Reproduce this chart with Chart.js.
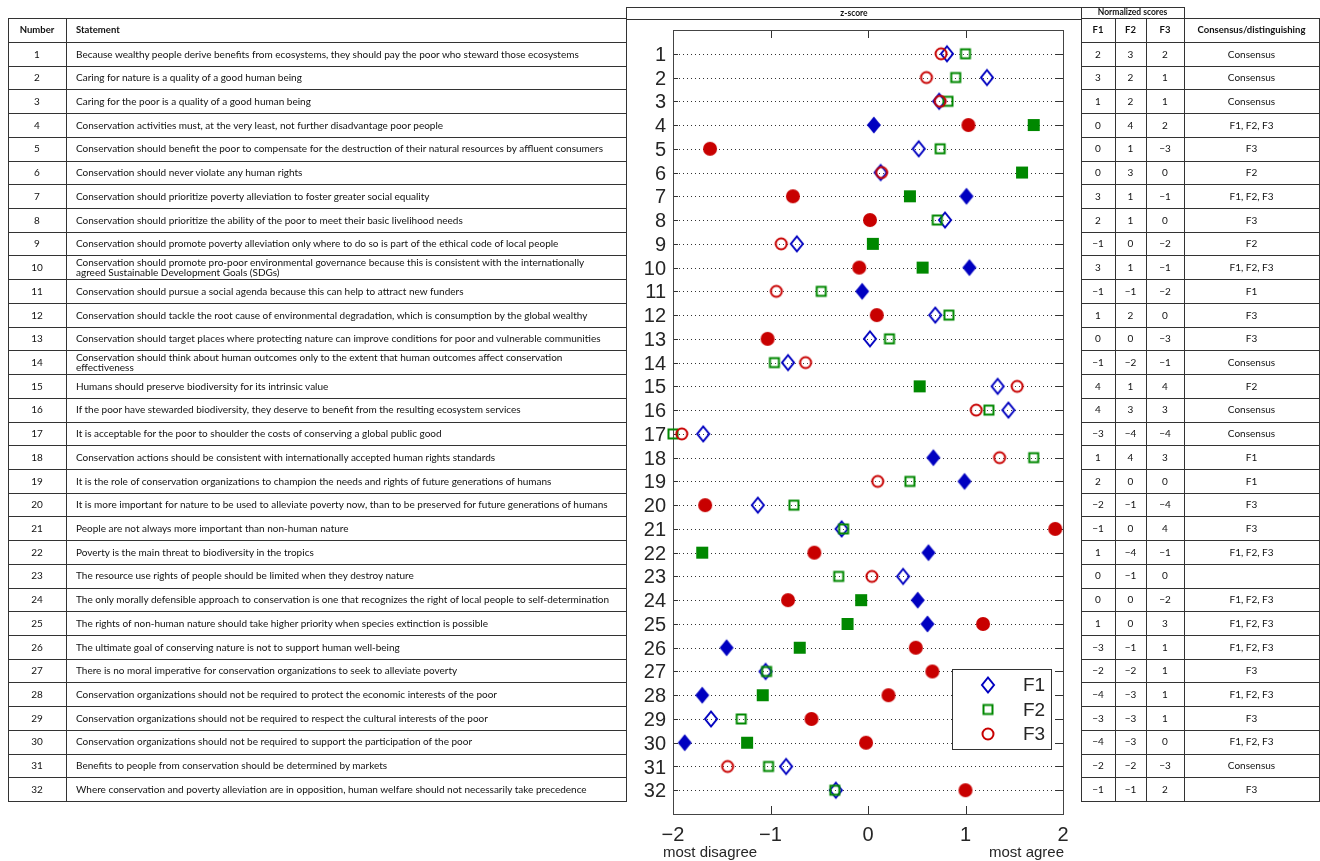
<!DOCTYPE html>
<html>
<head>
<meta charset="utf-8">
<script src="https://cdn.jsdelivr.net/npm/chart.js@4.4.1/dist/chart.umd.min.js"></script>
<style>
    body { margin: 0; background: #fff; width: 1320px; height: 861px; overflow: hidden; position: relative;
           font-family: Lato, "Open Sans", sans-serif; color: #111; }
    .ln { position: absolute; background: #333; }
    .cell { position: absolute; font-size: 10px; display: flex; align-items: center; line-height: 10.5px; white-space: nowrap; }
    .hd { font-weight: bold; font-size: 9.5px; }
    .sm { font-size: 8.5px; }
    #chart_wrap { position: absolute; left: 626px; top: 19px; width: 455px; height: 842px; }
</style>
</head>
<body>
<div id="chart_wrap"><canvas id="z_chart"></canvas></div>
<script>
// statement numbers and texts
const numbers = Array.from({ length: 32 }, (_, i) => i + 1);
const statements = [
    'Because wealthy people derive benefits from ecosystems, they should pay the poor who steward those ecosystems',
    'Caring for nature is a quality of a good human being',
    'Caring for the poor is a quality of a good human being',
    'Conservation activities must, at the very least, not further disadvantage poor people',
    'Conservation should benefit the poor to compensate for the destruction of their natural resources by affluent consumers',
    'Conservation should never violate any human rights',
    'Conservation should prioritize poverty alleviation to foster greater social equality',
    'Conservation should prioritize the ability of the poor to meet their basic livelihood needs',
    'Conservation should promote poverty alleviation only where to do so is part of the ethical code of local people',
    'Conservation should promote pro-poor environmental governance because this is consistent with the internationally\nagreed Sustainable Development Goals (SDGs)',
    'Conservation should pursue a social agenda because this can help to attract new funders',
    'Conservation should tackle the root cause of environmental degradation, which is consumption by the global wealthy',
    'Conservation should target places where protecting nature can improve conditions for poor and vulnerable communities',
    'Conservation should think about human outcomes only to the extent that human outcomes affect conservation\neffectiveness',
    'Humans should preserve biodiversity for its intrinsic value',
    'If the poor have stewarded biodiversity, they deserve to benefit from the resulting ecosystem services',
    'It is acceptable for the poor to shoulder the costs of conserving a global public good',
    'Conservation actions should be consistent with internationally accepted human rights standards',
    'It is the role of conservation organizations to champion the needs and rights of future generations of humans',
    'It is more important for nature to be used to alleviate poverty now, than to be preserved for future generations of humans',
    'People are not always more important than non-human nature',
    'Poverty is the main threat to biodiversity in the tropics',
    'The resource use rights of people should be limited when they destroy nature',
    'The only morally defensible approach to conservation is one that recognizes the right of local people to self-determination',
    'The rights of non-human nature should take higher priority when species extinction is possible',
    'The ultimate goal of conserving nature is not to support human well-being',
    'There is no moral imperative for conservation organizations to seek to alleviate poverty',
    'Conservation organizations should not be required to protect the economic interests of the poor',
    'Conservation organizations should not be required to respect the cultural interests of the poor',
    'Conservation organizations should not be required to support the participation of the poor',
    'Benefits to people from conservation should be determined by markets',
    'Where conservation and poverty alleviation are in opposition, human welfare should not necessarily take precedence'
];

// z-scores per factor
const f1_z = [0.81, 1.22, 0.73, 0.06, 0.52, 0.13, 1.01, 0.79, -0.73, 1.04,
              -0.06, 0.69, 0.02, -0.82, 1.33, 1.44, -1.69, 0.67, 0.99, -1.13,
              -0.27, 0.62, 0.36, 0.51, 0.61, -1.45, -1.05, -1.70, -1.61, -1.88,
              -0.84, -0.33];
const f2_z = [1.00, 0.90, 0.82, 1.70, 0.74, 1.58, 0.43, 0.71, 0.05, 0.56,
              -0.48, 0.83, 0.22, -0.96, 0.53, 1.24, -2.00, 1.70, 0.43, -0.76,
              -0.25, -1.70, -0.30, -0.07, -0.21, -0.70, -1.04, -1.08, -1.30, -1.24,
              -1.02, -0.34];
const f3_z = [0.75, 0.60, 0.74, 1.03, -1.62, 0.14, -0.77, 0.02, -0.89, -0.09,
              -0.94, 0.09, -1.03, -0.64, 1.53, 1.11, -1.91, 1.35, 0.10, -1.67,
              1.92, -0.55, 0.04, -0.82, 1.18, 0.49, 0.66, 0.21, -0.58, -0.02,
              -1.44, 1.00];

// normalized scores
const f1_norm = [2, 3, 1, 0, 0, 0, 3, 2, -1, 3, -1, 1, 0, -1, 4, 4, -3, 1, 2, -2, -1, 1, 0, 0, 1, -3, -2, -4, -3, -4, -2, -1];
const f2_norm = [3, 2, 2, 4, 1, 3, 1, 1, 0, 1, -1, 2, 0, -2, 1, 3, -4, 4, 0, -1, 0, -4, -1, 0, 0, -1, -2, -3, -3, -3, -2, -1];
const f3_norm = [2, 1, 1, 2, -3, 0, -1, 0, -2, -1, -2, 0, -3, -1, 4, 3, -4, 3, 0, -4, 4, -1, 0, -2, 3, 1, 1, 1, 1, 0, -3, 2];

const distinguishing = ['Consensus', 'Consensus', 'Consensus', 'F1, F2, F3', 'F3', 'F2', 'F1, F2, F3', 'F3', 'F2', 'F1, F2, F3',
                        'F1', 'F3', 'F3', 'Consensus', 'F2', 'Consensus', 'Consensus', 'F1', 'F1', 'F3',
                        'F3', 'F1, F2, F3', '', 'F1, F2, F3', 'F1, F2, F3', 'F1, F2, F3', 'F3', 'F1, F2, F3', 'F3', 'F1, F2, F3',
                        'Consensus', 'F3'];

const x_ticks = [-2, -1, 0, 1, 2];

const BLUE = '#0000c0', GREEN = '#008800', RED = '#c80000', INK = '#262626';

// ---------- tables (html) ----------
const ROW_TOP = 42, ROW_H = 23.72;

function line(x, y, w, h) {
    var d = document.createElement('div');
    d.className = 'ln';
    d.style.cssText = `left:${x}px;top:${y}px;width:${w}px;height:${h}px`;
    document.body.appendChild(d);
}

function cell(html, x, y, w, h, align, cls) {
    var d = document.createElement('div');
    d.className = 'cell' + (cls ? ' ' + cls : '');
    d.style.cssText = `left:${x}px;top:${y}px;width:${w}px;height:${h}px;justify-content:${align}`;
    d.innerHTML = html;
    document.body.appendChild(d);
}

function fmt(n) {
    return n < 0 ? '\u2212' + (-n) : String(n);
}

// header lines
line(8, 18, 619, 1);
line(626, 7, 559, 1);
line(626, 19, 456, 1);
line(1081, 18, 239, 1);
// row lines
for (let i = 0; i <= 32; i++) {
    let ly = Math.round(ROW_TOP + i * ROW_H);
    line(8, ly, 619, 1);
    line(1081, ly, 239, 1);
}
const table_bottom = Math.round(ROW_TOP + 32 * ROW_H) + 1;
// column lines
line(8, 18, 1.4, table_bottom - 18);
line(66, 18, 1.4, table_bottom - 18);
line(626, 7, 1.4, table_bottom - 7);
line(1081, 7, 1.4, table_bottom - 7);
line(1115, 18, 1.4, table_bottom - 18);
line(1146, 18, 1.4, table_bottom - 18);
line(1184, 7, 1.4, table_bottom - 7);
line(1319, 18, 1.4, table_bottom - 18);

cell('z-score', 626, 7, 456, 12, 'center', 'hd sm');
cell('Normalized scores', 1081, 7, 103, 11, 'center', 'hd sm');
cell('Number', 8, 18, 58, 24, 'center', 'hd');
cell('Statement', 76, 18, 300, 24, 'flex-start', 'hd');
cell('F1', 1081, 18, 34, 24, 'center', 'hd');
cell('F2', 1115, 18, 31, 24, 'center', 'hd');
cell('F3', 1146, 18, 38, 24, 'center', 'hd');
cell('Consensus/distinguishing', 1184, 18, 135, 24, 'center', 'hd');

for (let i = 0; i < 32; i++) {
    let row_y = ROW_TOP + i * ROW_H;
    cell(String(numbers[i]), 8, row_y, 58, ROW_H, 'center');
    cell(statements[i].replace('\n', '<br>'), 76, row_y, 548, ROW_H, 'flex-start');
    cell(fmt(f1_norm[i]), 1081, row_y, 34, ROW_H, 'center');
    cell(fmt(f2_norm[i]), 1115, row_y, 31, ROW_H, 'center');
    cell(fmt(f3_norm[i]), 1146, row_y, 38, ROW_H, 'center');
    cell(distinguishing[i], 1184, row_y, 135, ROW_H, 'center');
}

// ---------- markers ----------
function marker(shape, color, filled) {
    const c = document.createElement('canvas');
    c.width = 20; c.height = 20;
    const g = c.getContext('2d');
    g.strokeStyle = color;
    g.fillStyle = color;
    g.lineWidth = 2;
    g.beginPath();
    if (shape === 'diamond') {
        const w = filled ? 7 : 6, h = filled ? 8.5 : 7.5;
        g.moveTo(10, 10 - h); g.lineTo(10 + w, 10); g.lineTo(10, 10 + h); g.lineTo(10 - w, 10);
        g.closePath();
    } else if (shape === 'square') {
        const r = filled ? 6 : 4.5;
        g.rect(10 - r, 10 - r, 2 * r, 2 * r);
    } else {
        g.arc(10, 10, filled ? 7 : 5.5, 0, Math.PI * 2);
    }
    if (filled) g.fill(); else g.stroke();
    return c;
}

const factors = [
    { label: 'F1', z: f1_z, shape: 'diamond', color: BLUE, order: 3 },
    { label: 'F2', z: f2_z, shape: 'square', color: GREEN, order: 2 },
    { label: 'F3', z: f3_z, shape: 'circle', color: RED, order: 1 }
];
factors.forEach(f => {
    f.open = marker(f.shape, f.color, false);
    f.solid = marker(f.shape, f.color, true);
});

// filled marker where the statement distinguishes that factor
const datasets = factors.map(f => ({
    label: f.label,
    data: f.z.map((v, i) => ({ x: v, y: numbers[i] })),
    pointStyle: f.z.map((v, i) => distinguishing[i].includes(f.label) ? f.solid : f.open),
    pointRadius: 7,
    showLine: false,
    clip: false,
    order: f.order
}));

// frame, dotted row lines, inward ticks, legend, captions
const decor = {
    id: 'decor',
    beforeDatasetsDraw(chart) {
        const { ctx, chartArea: a, scales: { x, y } } = chart;
        ctx.save();
        ctx.strokeStyle = '#333';
        ctx.lineWidth = 1;
        numbers.forEach(n => {
            const py = Math.round(y.getPixelForValue(n)) + 0.5;
            ctx.setLineDash([1, 3]);
            ctx.beginPath(); ctx.moveTo(a.left + 6, py); ctx.lineTo(a.right - 7, py); ctx.stroke();
            ctx.setLineDash([]);
            ctx.beginPath(); ctx.moveTo(a.left, py); ctx.lineTo(a.left + 5, py);
            ctx.moveTo(a.right - 7, py); ctx.lineTo(a.right, py); ctx.stroke();
        });
        x_ticks.forEach(t => {
            const px = Math.round(x.getPixelForValue(t)) + 0.5;
            ctx.beginPath();
            ctx.moveTo(px, a.top); ctx.lineTo(px, a.top + 8);
            ctx.moveTo(px, a.bottom); ctx.lineTo(px, a.bottom - 8);
            ctx.stroke();
        });
        ctx.strokeStyle = '#444';
        ctx.strokeRect(Math.round(a.left) + 0.5, Math.round(a.top) + 0.5, Math.round(a.right - a.left), Math.round(a.bottom - a.top));
        ctx.restore();
    },
    afterDatasetsDraw(chart) {
        const { ctx, chartArea: a, scales: { x } } = chart;
        ctx.save();
        // legend box
        const bx = 326.5, by = 650.5, bw = 99, bh = 80;
        ctx.fillStyle = '#fff';
        ctx.fillRect(bx, by, bw, bh);
        ctx.strokeStyle = '#333';
        ctx.lineWidth = 1;
        ctx.strokeRect(bx, by, bw, bh);
        ctx.font = '19px "Liberation Sans", Arial, sans-serif';
        ctx.fillStyle = INK;
        ctx.textBaseline = 'middle';
        factors.forEach((f, i) => {
            const cy = 666 + i * 24.5;
            ctx.drawImage(f.open, 362 - 10, cy - 10);
            ctx.fillText(f.label, 397, cy + 1);
        });
        // axis captions
        ctx.font = '15px "Liberation Sans", Arial, sans-serif';
        ctx.textBaseline = 'alphabetic';
        ctx.textAlign = 'left';
        ctx.fillText('most disagree', x.getPixelForValue(-2) - 10, 838);
        ctx.textAlign = 'right';
        ctx.fillText('most agree', x.getPixelForValue(2) + 1, 838);
        ctx.restore();
    }
};

const ctx = document.getElementById('z_chart').getContext('2d');
const z_chart = new Chart(ctx, {
    type: 'scatter',
    data: { datasets: datasets },
    plugins: [decor],
    options: {
        animation: false,
        events: [],
        responsive: true,
        maintainAspectRatio: false,
        layout: { padding: { left: 0, right: 18, top: 11, bottom: 0 } },
        scales: {
            x: {
                type: 'linear',
                min: -2,
                max: 2,
                afterBuildTicks: function(scale) {
                    scale.ticks = x_ticks.map(v => ({ value: v }));
                },
                afterFit: function(scale) {
                    scale.height = 47;
                    scale.paddingLeft = 0;
                    scale.paddingRight = 0;
                },
                grid: { display: false, drawTicks: false },
                border: { display: false },
                ticks: {
                    padding: 9,
                    color: INK,
                    font: { family: '"Liberation Sans", Arial, sans-serif', size: 20 },
                    callback: function(value) {
                        return value < 0 ? '\u2212' + (-value) : String(value);
                    }
                }
            },
            y: {
                type: 'linear',
                min: 0,
                max: 33,
                reverse: true,
                afterBuildTicks: function(scale) {
                    scale.ticks = numbers.map(v => ({ value: v }));
                },
                afterFit: function(scale) {
                    scale.width = 47;
                    scale.paddingTop = 0;
                    scale.paddingBottom = 0;
                },
                grid: { display: false, drawTicks: false },
                border: { display: false },
                ticks: {
                    padding: 7,
                    labelOffset: 1.5,
                    autoSkip: false,
                    color: INK,
                    font: { family: '"Liberation Sans", Arial, sans-serif', size: 20 }
                }
            }
        },
        plugins: {
            legend: { display: false },
            tooltip: { enabled: false }
        }
    }
});
</script>
</body>
</html>
